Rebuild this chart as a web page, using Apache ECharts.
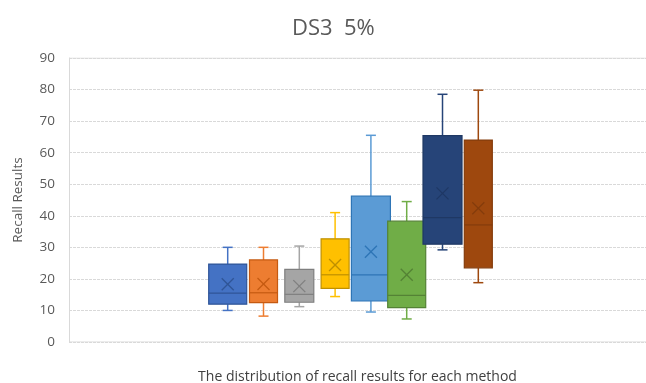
<!DOCTYPE html>
<html>
<head>
<meta charset="utf-8">
<script src="https://cdn.jsdelivr.net/npm/echarts@6/dist/echarts.min.js"></script>
<style>html,body{margin:0;padding:0;background:#fff;}#c{width:646px;height:383px;}</style>
</head>
<body>
<div id="c"></div>
<script>
// Data (one entry per method)
const methods = ['M1', 'M2', 'M3', 'M4', 'M5', 'M6', 'M7', 'M8'];
const minVals    = [10.0,  8.2, 11.2, 14.4,  9.5,  7.3, 29.2, 18.8];
const q1Vals     = [12.0, 12.5, 12.6, 17.0, 13.0, 10.9, 31.0, 23.5];
const medianVals = [15.5, 15.6, 15.1, 21.3, 21.3, 14.8, 39.4, 37.1];
const q3Vals     = [24.7, 26.0, 23.0, 32.7, 46.2, 38.3, 65.4, 64.0];
const maxVals    = [30.0, 30.0, 30.4, 41.0, 65.5, 44.5, 78.5, 79.8];
const meanVals   = [18.3, 18.4, 17.7, 24.4, 28.6, 21.3, 47.1, 42.4];
const yTicks = [0, 10, 20, 30, 40, 50, 60, 70, 80, 90];

// Styles
const fillColors   = ['#4472C4', '#ED7D31', '#A5A5A5', '#FFC000', '#5B9BD5', '#70AD47', '#264478', '#9E480E'];
const borderColors = ['#2F5597', '#C55A11', '#7F7F7F', '#BF9000', '#2E75B6', '#548235', '#1F3864', '#843C0C'];
const boxWidths    = [38, 28, 29, 28, 39, 38, 39, 28];

const data = methods.map((m, i) => [i, minVals[i], q1Vals[i], medianVals[i], q3Vals[i], maxVals[i], meanVals[i]]);

function renderItem(params, api) {
  const i = api.value(0);
  const pMin = api.coord([i, api.value(1)]);
  const pQ1 = api.coord([i, api.value(2)]);
  const pMed = api.coord([i, api.value(3)]);
  const pQ3 = api.coord([i, api.value(4)]);
  const pMax = api.coord([i, api.value(5)]);
  const pMean = api.coord([i, api.value(6)]);
  const x = pMin[0];
  const w = boxWidths[i];
  const cap = 5;
  const xs = 6;
  const fill = fillColors[i];
  const border = borderColors[i];
  return {
    type: 'group',
    children: [
      { type: 'line', shape: { x1: x, y1: pMax[1], x2: x, y2: pQ3[1] }, style: { stroke: fill, lineWidth: 1.5 } },
      { type: 'line', shape: { x1: x - cap, y1: pMax[1], x2: x + cap, y2: pMax[1] }, style: { stroke: fill, lineWidth: 1.5 } },
      { type: 'line', shape: { x1: x, y1: pQ1[1], x2: x, y2: pMin[1] }, style: { stroke: fill, lineWidth: 1.5 } },
      { type: 'line', shape: { x1: x - cap, y1: pMin[1], x2: x + cap, y2: pMin[1] }, style: { stroke: fill, lineWidth: 1.5 } },
      { type: 'rect', shape: { x: x - w / 2, y: pQ3[1], width: w, height: pQ1[1] - pQ3[1] }, style: { fill: fill, stroke: border, lineWidth: 1.2 } },
      { type: 'line', shape: { x1: x - w / 2, y1: pMed[1], x2: x + w / 2, y2: pMed[1] }, style: { stroke: border, lineWidth: 1.2 } },
      { type: 'line', shape: { x1: pMean[0] - xs, y1: pMean[1] - xs, x2: pMean[0] + xs, y2: pMean[1] + xs }, style: { stroke: border, lineWidth: 1.3 } },
      { type: 'line', shape: { x1: pMean[0] - xs, y1: pMean[1] + xs, x2: pMean[0] + xs, y2: pMean[1] - xs }, style: { stroke: border, lineWidth: 1.3 } }
    ]
  };
}

const chart = echarts.init(document.getElementById('c'), null, { renderer: 'canvas' });
chart.setOption({
  animation: false,
  backgroundColor: '#fff',
  title: {
    text: 'DS3  5%',
    left: 287,
    top: 13,
    textStyle: { fontFamily: 'Open Sans', fontSize: 22, fontWeight: 'normal', color: '#595959' }
  },
  grid: { left: 69, right: 0, top: 58, bottom: 41, containLabel: false, outerBoundsMode: 'none' },
  xAxis: {
    type: 'value',
    min: -4.433,
    max: 11.684,
    axisLine: { show: false },
    axisTick: { show: false },
    axisLabel: { show: false },
    splitLine: { show: false },
    name: 'The distribution of recall results for each method',
    nameLocation: 'middle',
    nameGap: 28,
    nameTextStyle: { fontFamily: 'Open Sans', fontSize: 14, color: '#404040' }
  },
  yAxis: {
    type: 'value',
    min: yTicks[0],
    max: yTicks[yTicks.length - 1],
    interval: 10,
    axisLine: { show: true, onZero: false, lineStyle: { color: '#D9D9D9', width: 1 } },
    axisTick: { show: false },
    axisLabel: { color: '#595959', fontFamily: 'Open Sans', fontSize: 13.5, margin: 14 },
    splitLine: { show: true, lineStyle: { color: '#D9D9D9', type: [3, 1], width: 1.2 } },
    name: 'Recall Results',
    nameLocation: 'middle',
    nameGap: 44,
    nameTextStyle: { fontFamily: 'Open Sans', fontSize: 13.5, color: '#595959' }
  },
  series: [
    {
      type: 'custom',
      renderItem: renderItem,
      data: data,
      encode: { x: 0, y: [1, 2, 3, 4, 5, 6] },
      z: 5
    },
    {
      type: 'line',
      data: [[-4.433, 0], [11.684, 0]],
      symbol: 'none',
      silent: true,
      lineStyle: { color: '#D9D9D9', width: 1.2 },
      z: 1
    },
    {
      type: 'line',
      data: [[-4.433, 90], [11.684, 90]],
      symbol: 'none',
      silent: true,
      lineStyle: { color: '#D9D9D9', width: 1.2 },
      z: 1
    }
  ]
});
</script>
</body>
</html>
